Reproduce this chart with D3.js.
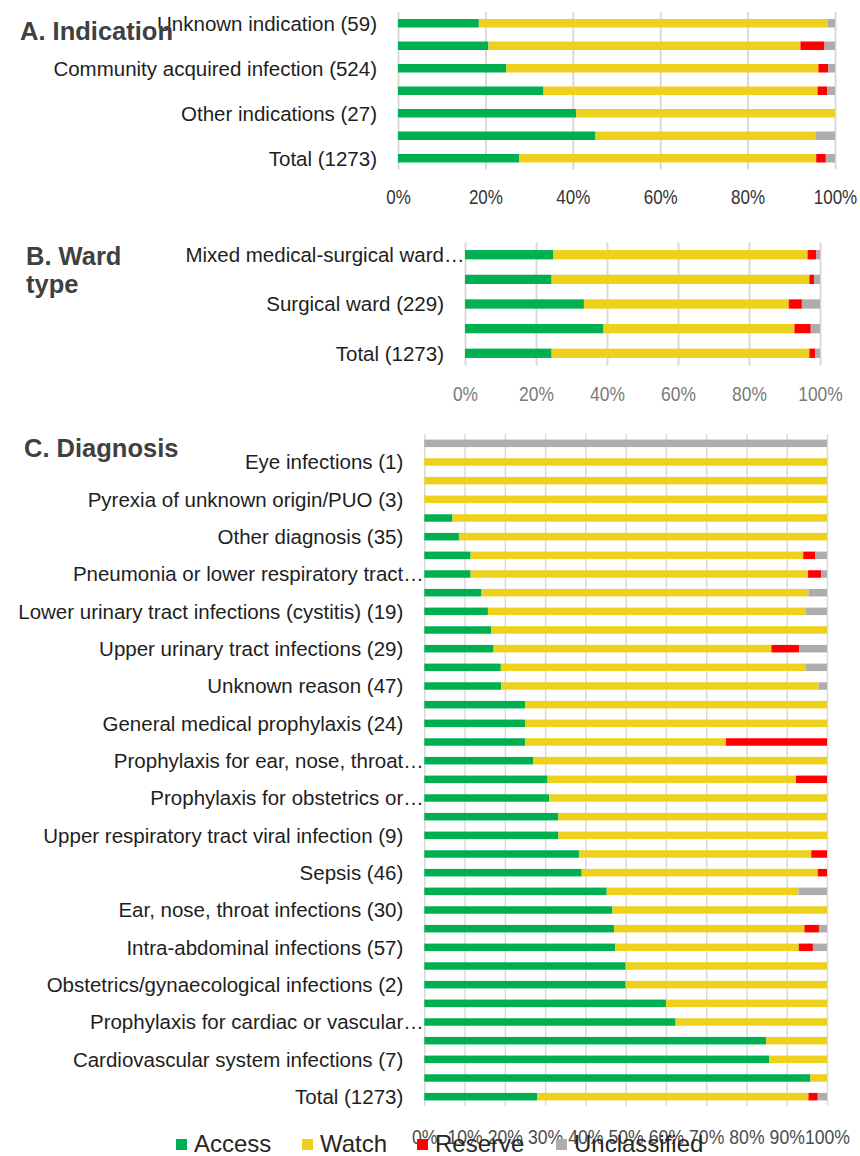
<!DOCTYPE html>
<html>
<head>
<meta charset="utf-8">
<script src="https://cdn.jsdelivr.net/npm/d3@7"></script>
<style>
  body { margin: 0; background: #fff; }
  svg { display: block; font-family: "Liberation Sans", Arial, sans-serif; }
</style>
</head>
<body>
<svg id="chart" width="860" height="1156"></svg>
<script>
// Series keys and colours
const keys = ['Access', 'Watch', 'Reserve', 'Unclassified'];
const keyColors = ['#00b050', '#edd11c', '#ff0000', '#b0acac'];

// A. Indication (every other category label is hidden in the original)
const indicationLabels = ['Unknown indication (59)', '', 'Community acquired infection (524)', '', 'Other indications (27)', '', 'Total (1273)'];
const indicationAccess = [18.5, 20.7, 24.8, 33.3, 40.8, 45.2, 27.7];
const indicationWatch = [79.9, 71.4, 71.4, 62.7, 59.2, 50.3, 68.0];
const indicationReserve = [0, 5.5, 2.2, 2.2, 0, 0, 2.2];
const indicationUnclassified = [1.6, 2.4, 1.6, 1.8, 0, 4.5, 2.1];

// B. Ward type
const wardLabels = ['Mixed medical-surgical ward…', '', 'Surgical ward (229)', '', 'Total (1273)'];
const wardAccess = [24.9, 24.4, 33.5, 39.0, 24.4];
const wardWatch = [71.6, 72.6, 57.7, 53.8, 72.6];
const wardReserve = [2.5, 1.3, 3.7, 4.6, 1.7];
const wardUnclassified = [1.0, 1.7, 5.1, 2.6, 1.3];

// C. Diagnosis
const diagnosisLabels = [
  '', 'Eye infections (1)', '', 'Pyrexia of unknown origin/PUO (3)', '', 'Other diagnosis (35)',
  '', 'Pneumonia or lower respiratory tract…', '', 'Lower urinary tract infections (cystitis) (19)',
  '', 'Upper urinary tract infections (29)', '', 'Unknown reason (47)', '', 'General medical prophylaxis (24)',
  '', 'Prophylaxis for ear, nose, throat…', '', 'Prophylaxis for obstetrics or…',
  '', 'Upper respiratory tract viral infection (9)', '', 'Sepsis (46)', '', 'Ear, nose, throat infections (30)',
  '', 'Intra-abdominal infections (57)', '', 'Obstetrics/gynaecological infections (2)',
  '', 'Prophylaxis for cardiac or vascular…', '', 'Cardiovascular system infections (7)', '', 'Total (1273)'
];
const diagnosisAccess = [0, 0, 0, 0, 7.0, 8.6, 11.5, 11.5, 14.2, 15.8, 16.6, 17.2, 19.0, 19.1, 25.0, 25.0, 25.0, 27.1,
  30.6, 31.0, 33.3, 33.3, 38.4, 39.1, 45.3, 46.7, 47.1, 47.4, 50.0, 50.0, 60.0, 62.4, 84.9, 85.7, 95.9, 28.0];
const diagnosisWatch = [0, 100, 100, 100, 93.0, 91.4, 82.6, 83.8, 81.2, 78.9, 83.4, 69.0, 75.7, 78.8, 75.0, 75.0, 49.9, 72.9,
  61.7, 69.0, 66.7, 66.7, 57.7, 58.6, 47.6, 53.3, 47.3, 45.6, 50.0, 50.0, 40.0, 37.6, 15.1, 14.3, 4.1, 67.4];
const diagnosisReserve = [0, 0, 0, 0, 0, 0, 3.0, 3.3, 0, 0, 0, 6.9, 0, 0, 0, 0, 25.1, 0,
  7.7, 0, 0, 0, 3.9, 2.3, 0, 0, 3.6, 3.5, 0, 0, 0, 0, 0, 0, 0, 2.3];
const diagnosisUnclassified = [100, 0, 0, 0, 0, 0, 2.9, 1.4, 4.6, 5.3, 0, 6.9, 5.3, 2.1, 0, 0, 0, 0,
  0, 0, 0, 0, 0, 0, 7.1, 0, 2.0, 3.5, 0, 0, 0, 0, 0, 0, 0, 2.3];

const legendLabels = keys;

const svg = d3.select('#chart');

function buildRows(labels, access, watch, reserve, unclassified) {
  return labels.map((label, i) => ({
    i, label,
    Access: access[i], Watch: watch[i], Reserve: reserve[i], Unclassified: unclassified[i]
  }));
}

function drawPanel(opts) {
  const rows = buildRows(...opts.data);
  const x = d3.scaleLinear().domain([0, 100]).range([opts.x0, opts.x1]);
  const y = d3.scaleBand()
    .domain(rows.map(d => d.i))
    .range([opts.y0, opts.y1]);
  const barH = opts.barH;

  const g = svg.append('g');

  // axis with gridlines
  const axis = d3.axisBottom(x)
    .tickValues(d3.range(0, 101, opts.tickStep))
    .tickFormat(d => d + '%')
    .tickSize(-(opts.y1 - opts.y0))
    .tickPadding(opts.tickPad);

  const ax = g.append('g')
    .attr('transform', `translate(0,${opts.y1})`)
    .call(axis);
  ax.select('.domain').remove();
  ax.selectAll('.tick line')
    .attr('stroke', '#d9d9d9')
    .attr('stroke-width', opts.gridW);
  ax.selectAll('.tick text')
    .attr('fill', opts.tickColor)
    .attr('font-size', opts.tickSize)
    .attr('font-family', '"Liberation Sans", Arial, sans-serif')
    .attr('transform', `scale(${opts.tickSqueeze},1)`);

  // stacked bars
  const stacked = d3.stack().keys(keys)(rows);
  g.append('g').selectAll('g')
    .data(stacked)
    .join('g')
    .attr('fill', (d, k) => keyColors[k])
    .selectAll('rect')
    .data(d => d.filter(s => s[1] - s[0] > 0))
    .join('rect')
    .attr('x', s => x(s[0]))
    .attr('width', s => x(s[1]) - x(s[0]))
    .attr('y', s => y(s.data.i) + (y.bandwidth() - barH) / 2)
    .attr('height', barH);

  // category labels (truncated labels let the ellipsis run past the gap)
  const labelX = opts.x0 - 21;
  const lab = g.append('g')
    .attr('font-size', opts.labelSize)
    .attr('fill', '#1e1e1e');
  rows.filter(d => d.label).forEach(d => {
    const cy = y(d.i) + y.bandwidth() / 2;
    const truncated = d.label.endsWith('…');
    lab.append('text')
      .attr('x', labelX)
      .attr('y', cy)
      .attr('dy', '0.36em')
      .attr('text-anchor', 'end')
      .text(truncated ? d.label.slice(0, -1) : d.label);
    if (truncated) {
      lab.append('text')
        .attr('x', labelX)
        .attr('y', cy)
        .attr('dy', '0.36em')
        .text('…');
    }
  });

  // panel title
  const title = g.append('text')
    .attr('x', opts.titleX)
    .attr('y', opts.titleY)
    .attr('font-size', 25.5)
    .attr('font-weight', 'bold')
    .attr('fill', '#404040');
  opts.title.forEach((t, k) => {
    title.append('tspan')
      .attr('x', opts.titleX)
      .attr('dy', k === 0 ? 0 : 28)
      .text(t);
  });
}

drawPanel({
  data: [indicationLabels, indicationAccess, indicationWatch, indicationReserve, indicationUnclassified],
  x0: 398, x1: 835, y0: 12, y1: 169.5, barH: 8.5,
  tickStep: 20, tickPad: 20, tickSize: 20, tickSqueeze: 0.85, tickColor: '#333333', gridW: 2,
  labelSize: 20.5, title: ['A. Indication'], titleX: 20, titleY: 40
});

drawPanel({
  data: [wardLabels, wardAccess, wardWatch, wardReserve, wardUnclassified],
  x0: 465, x1: 820, y0: 242.4, y1: 365.6, barH: 9.3,
  tickStep: 20, tickPad: 21, tickSize: 20, tickSqueeze: 0.87, tickColor: '#7a7a7a', gridW: 2,
  labelSize: 20.5, title: ['B. Ward', 'type'], titleX: 26, titleY: 265
});

drawPanel({
  data: [diagnosisLabels, diagnosisAccess, diagnosisWatch, diagnosisReserve, diagnosisUnclassified],
  x0: 424.3, x1: 827, y0: 434, y1: 1106, barH: 7.5,
  tickStep: 10, tickPad: 23, tickSize: 21, tickSqueeze: 0.84, tickColor: '#4d4d4d', gridW: 1.5,
  labelSize: 20.5, title: ['C. Diagnosis'], titleX: 24, titleY: 457
});

// legend
const legendX = [176, 302, 417, 556];
const legend = svg.append('g').attr('font-size', 24).attr('fill', '#262626');
legendLabels.forEach((name, k) => {
  legend.append('rect')
    .attr('x', legendX[k]).attr('y', 1139)
    .attr('width', 11).attr('height', 11)
    .attr('fill', keyColors[k]);
  legend.append('text')
    .attr('x', legendX[k] + 18).attr('y', 1152)
    .text(name);
});
</script>
</body>
</html>
